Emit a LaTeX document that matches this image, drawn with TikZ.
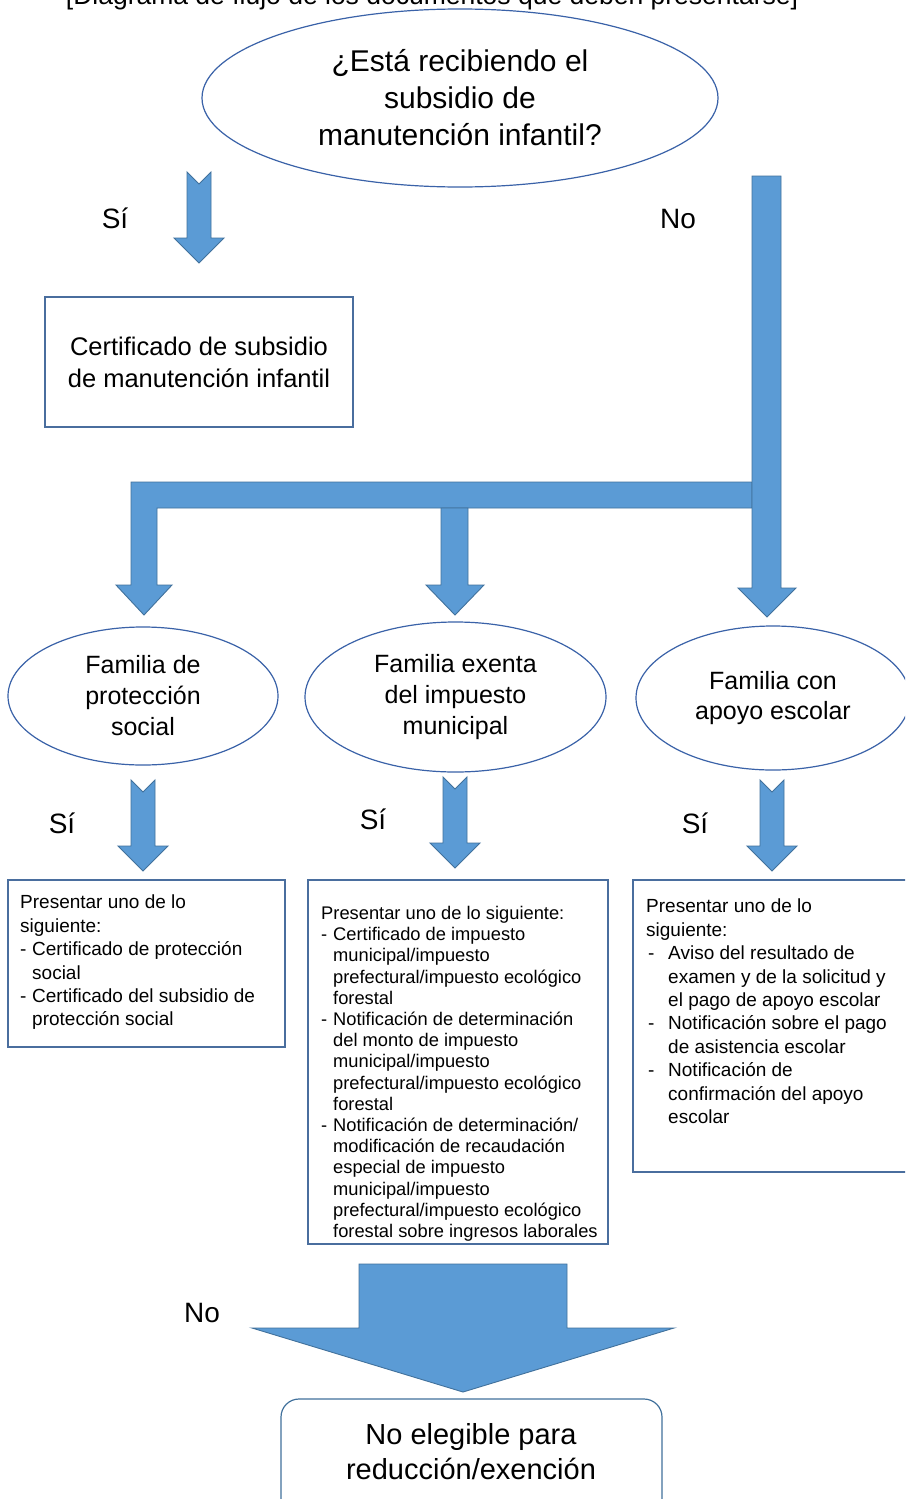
\documentclass[tikz,border=0pt]{standalone}
\usepackage{fontspec}
\setmainfont{Liberation Sans}
\usetikzlibrary{shapes.geometric}
\definecolor{arrowfill}{HTML}{5B9BD5}
\definecolor{arrowline}{HTML}{41719C}
\definecolor{ellline}{HTML}{3A62A8}
\definecolor{boxline}{HTML}{4A6E9E}
\newcommand\dashitem[1]{\makebox[12pt][l]{-}#1}
\newcommand\contline[1]{\hspace*{12pt}#1}
\newcommand\rdashitem[1]{\makebox[22pt][l]{\hspace*{2pt}-}#1}
\newcommand\rcontline[1]{\hspace*{22pt}#1}
\tikzset{
  blockarrow/.style={fill=arrowfill, draw=arrowline, line width=0.9pt, line join=miter},
  ellnode/.style={ellipse, draw=ellline, line width=1.2pt, inner sep=0pt, align=center},
  boxnode/.style={rectangle, draw=boxline, line width=1.3pt, inner sep=0pt},
  lbl/.style={anchor=base, inner sep=0pt, font=\fontsize{28}{34}\selectfont},
  listtext/.style={anchor=north west, inner sep=0pt, align=left},
  pics/notcharrow/.style={code={
    \path[blockarrow] (-12,0) -- (0,12) -- (12,0) -- (12,66) -- (25,66) -- (0,91)
      -- (-25,66) -- (-12,66) -- cycle;}}
}
\begin{document}
\begin{tikzpicture}[x=1pt,y=-1pt]
\useasboundingbox (0,0) rectangle (905,1499);
\clip (0,0) rectangle (905,1499);
\fill[white] (0,0) rectangle (905,1499);

% title (cut off at top)
\node[anchor=base, inner sep=0pt, font=\fontsize{26.5}{30}\selectfont] (title) at (432,5)
  {[Diagrama de flujo de los documentos que deben presentarse]};

% top question
\node[ellnode, minimum width=516pt, minimum height=178pt,
      font=\fontsize{30}{37}\selectfont] (q) at (460,98)
  {¿Está recibiendo el\\subsidio de\\manutención infantil?};

\node[lbl] (si0) at (115,228) {Sí};
\node[lbl] (no0) at (678,228) {No};

\pic at (199,172) {notcharrow};

\node[boxnode, minimum width=308pt, minimum height=130pt, align=center,
      font=\fontsize{25.5}{32}\selectfont] (cert) at (199,362)
  {Certificado de subsidio\\de manutención infantil};

% branching arrows
\path[blockarrow] (752,482) -- (131,482) -- (131,585) -- (116,585) -- (144,615)
  -- (172,585) -- (157,585) -- (157,508) -- (752,508) -- cycle;
\path[blockarrow] (441,508) -- (441,585) -- (426,585) -- (455,615) -- (484,585)
  -- (468,585) -- (468,508) -- cycle;
\path[blockarrow] (752,176) -- (781,176) -- (781,588) -- (796,588) -- (767,617)
  -- (738,588) -- (752,588) -- cycle;

% families
\node[ellnode, minimum width=270pt, minimum height=138pt,
      font=\fontsize{25}{31}\selectfont] (f1) at (143,696)
  {Familia de\\protección\\social};
\node[ellnode, minimum width=301pt, minimum height=150pt,
      font=\fontsize{25}{31}\selectfont] (f2) at (455.5,697)
  {Familia exenta\\del impuesto\\municipal};
\node[ellnode, minimum width=274pt, minimum height=144pt,
      font=\fontsize{25}{30}\selectfont] (f3) at (773,698)
  {Familia con\\apoyo escolar};

\node[lbl] (si1) at (62,833) {Sí};
\node[lbl] (si2) at (373,829) {Sí};
\node[lbl] (si3) at (695,833) {Sí};

\pic at (143,780) {notcharrow};
\pic at (455,777) {notcharrow};
\pic at (772,780) {notcharrow};

% document boxes
\node[boxnode, minimum width=277pt, minimum height=167pt] (d1) at (146.5,963.5) {};
\node[listtext, font=\fontsize{19}{23.4}\selectfont] (t1) at (20,895)
  {Presentar uno de lo\\
   siguiente:\\
   \dashitem{Certificado de protección}\\
   \contline{social}\\
   \dashitem{Certificado del subsidio de}\\
   \contline{protección social}};

\node[boxnode, minimum width=300pt, minimum height=364pt] (d2) at (458,1062) {};
\node[listtext, font=\fontsize{18.3}{21.2}\selectfont] (t2) at (321,906)
  {Presentar uno de lo siguiente:\\
   \dashitem{Certificado de impuesto}\\
   \contline{municipal/impuesto}\\
   \contline{prefectural/impuesto ecológico}\\
   \contline{forestal}\\
   \dashitem{Notificación de determinación}\\
   \contline{del monto de impuesto}\\
   \contline{municipal/impuesto}\\
   \contline{prefectural/impuesto ecológico}\\
   \contline{forestal}\\
   \dashitem{Notificación de determinación/}\\
   \contline{modificación de recaudación}\\
   \contline{especial de impuesto}\\
   \contline{municipal/impuesto}\\
   \contline{prefectural/impuesto ecológico}\\
   \contline{forestal sobre ingresos laborales}};

\node[boxnode, minimum width=282pt, minimum height=292pt] (d3) at (774,1026) {};
\node[listtext, font=\fontsize{19}{23.4}\selectfont] (t3) at (646,899)
  {Presentar uno de lo\\
   siguiente:\\
   \rdashitem{Aviso del resultado de}\\
   \rcontline{examen y de la solicitud y}\\
   \rcontline{el pago de apoyo escolar}\\
   \rdashitem{Notificación sobre el pago}\\
   \rcontline{de asistencia escolar}\\
   \rdashitem{Notificación de}\\
   \rcontline{confirmación del apoyo}\\
   \rcontline{escolar}};

% bottom
\node[lbl] (no1) at (202,1322) {No};
\path[blockarrow] (359,1264) -- (567,1264) -- (567,1328) -- (674,1328) -- (463,1392)
  -- (252,1328) -- (359,1328) -- cycle;

\node[draw=arrowline, line width=1.2pt, rounded corners=18pt, inner sep=0pt,
      minimum width=381pt, minimum height=131pt] (res) at (471.5,1464.5) {};
\node[align=center, inner sep=0pt, font=\fontsize{29}{35}\selectfont] (restext) at (471,1452)
  {No elegible para\\reducción/exención};
\end{tikzpicture}
\end{document}
